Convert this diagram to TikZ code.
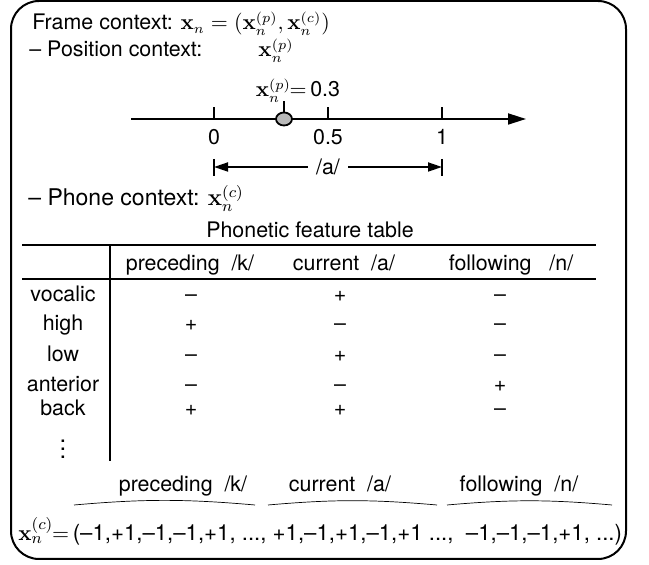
\documentclass[tikz,border=0pt]{standalone}
\usepackage[no-math]{fontspec}
\setmainfont{TeX Gyre Heros}
\usetikzlibrary{arrows.meta,shapes.geometric}
\begin{document}
\begin{tikzpicture}[x=0.5pt,y=-0.5pt,
  txt/.style={font=\fontsize{10.7}{12}\selectfont, inner sep=0pt, anchor=base},
  frm/.style={line width=1pt, rounded corners=14pt},
  axis/.style={line width=0.9pt},
  rule/.style={line width=0.7pt},
  bigtip/.style={-{Triangle[length=9pt,width=5.5pt]}},
  smalltip/.style={-{Triangle[length=7pt,width=4.5pt]}},
  arc/.style={line width=0.35pt}]
\useasboundingbox (0,0) rectangle (649,565);
\draw[frm] (11,1) rectangle (626,559);

% header lines
\node[txt, anchor=base west] (frame) at (32,30) {Frame context: $\mathbf{x}_n = (\mathbf{x}_n^{(p)}, \mathbf{x}_n^{(c)})$};
\node[txt, anchor=base west] (pos) at (29,57) {-- Position context:};
\node[txt] (posx) at (276,57) {$\mathbf{x}_n^{(p)}$};
\node[txt] (val) at (298,97) {$\mathbf{x}_n^{(p)}\!\!=$\,0.3};

% number line
\coordinate (nlS) at (131,119);
\coordinate (nlE) at (526,119);
\draw[axis,bigtip] (nlS) -- (nlE);
\coordinate (p0) at (214,119);
\coordinate (p5) at (328,119);
\coordinate (p1) at (442,119);
\draw[axis] (p0) -- ++(0,-12);
\draw[axis] (p5) -- ++(0,-12);
\draw[axis] (p1) -- ++(0,-12);
\node[txt] (t0) at (214,145) {0};
\node[txt] (t5) at (328,145) {0.5};
\node[txt] (t1) at (442,145) {1};
\node[draw, ellipse, fill=gray!55, line width=0.9pt, inner sep=0pt,
      minimum width=8pt, minimum height=6.5pt] (dot) at (284,119) {};
\coordinate (dotTop) at (284,101);
\draw[axis] (dot.north) -- (dotTop);

% /a/ span
\node[txt, anchor=center] (aa) at (328,167) {/a/};
\coordinate (aL) at (214,167);
\coordinate (aR) at (442,167);
\draw[axis] (214,159) -- (214,176);
\draw[axis] (442,159) -- (442,176);
\draw[axis,smalltip] ([xshift=-4pt]aa.west) -- (aL);
\draw[axis,smalltip] ([xshift=4pt]aa.east) -- (aR);

% phone context
\node[txt, anchor=base west, font=\fontsize{11.5}{13}\selectfont] (phone) at (28,206) {-- Phone context: $\mathbf{x}_n^{(c)}$};

% table
\node[txt] (ttl) at (310,238) {Phonetic feature table};
\draw[rule] (22,245) -- (596,245);
\draw[rule] (22,279) -- (596,279);
\draw[rule] (110,245) -- (110,461);
\node[txt] (h1) at (190,271) {preceding\ \ /k/};
\node[txt] (h2) at (344,271) {current\ \ /a/};
\node[txt] (h3) at (511,271) {following\ \ \ /n/};

\node[txt] (r1) at (63,302) {vocalic};
\node[txt] (r2) at (63,331) {high};
\node[txt] (r3) at (63,362) {low};
\node[txt] (r4) at (63,392) {anterior};
\node[txt] (r5) at (63,416) {back};
\node[txt, anchor=center, font=\fontsize{12}{14}\selectfont] (r6) at (63,443) {$\vdots$};

\node[txt] (c11) at (191,302) {--};
\node[txt] (c12) at (340,302) {+};
\node[txt] (c13) at (500,302) {--};
\node[txt] (c21) at (191,331) {+};
\node[txt] (c22) at (340,331) {--};
\node[txt] (c23) at (500,331) {--};
\node[txt] (c31) at (191,362) {--};
\node[txt] (c32) at (340,362) {+};
\node[txt] (c33) at (500,362) {--};
\node[txt] (c41) at (191,392) {--};
\node[txt] (c42) at (340,392) {--};
\node[txt] (c43) at (500,392) {+};
\node[txt] (c51) at (191,416) {+};
\node[txt] (c52) at (340,416) {+};
\node[txt] (c53) at (500,416) {--};

% bottom vector
\node[txt] (b1) at (183,492) {preceding\ \ /k/};
\node[txt] (b2) at (340,492) {current\ \ /a/};
\node[txt] (b3) at (519,492) {following\ \ /n/};
\coordinate (a1s) at (74,505);  \coordinate (a1e) at (255,505);
\coordinate (a2s) at (268,505); \coordinate (a2e) at (437,505);
\coordinate (a3s) at (447,505); \coordinate (a3e) at (612,505);
\draw[arc] (a1s) to[bend left=5] (a1e);
\draw[arc] (a2s) to[bend left=5] (a2e);
\draw[arc] (a3s) to[bend left=5] (a3e);
\node[txt, anchor=base west, font=\fontsize{11.1}{13}\selectfont] (vec) at (18,541) {$\mathbf{x}_n^{(c)}\!\!=$\,(--1,+1,--1,--1,+1, ..., +1,--1,+1,--1,+1 ...,\ \ --1,--1,--1,+1, ...)};
\end{tikzpicture}
\end{document}
